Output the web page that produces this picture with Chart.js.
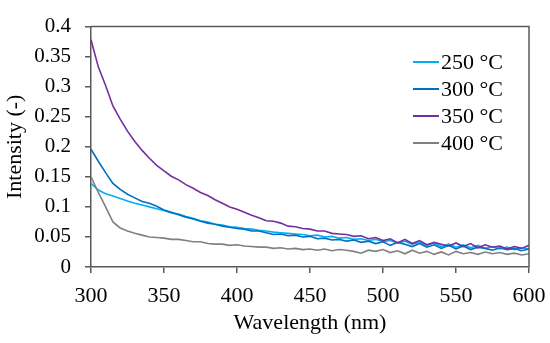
<!DOCTYPE html>
<html>
<head>
<meta charset="utf-8">
<script src="https://cdn.jsdelivr.net/npm/chart.js@4"></script>
<style>
  html, body { margin: 0; padding: 0; background: #fff; }
  #wrap { width: 550px; height: 343px; }
</style>
</head>
<body>
<div id="wrap"><canvas id="spectra"></canvas></div>
<script>
// wavelength (nm)
var wavelengths = [300,305,310,315,320,325,330,335,340,345,350,355,360,365,370,375,380,385,390,395,
    400,405,410,415,420,425,430,435,440,445,450,455,460,465,470,475,480,485,490,495,
    500,505,510,515,520,525,530,535,540,545,550,555,560,565,570,575,580,585,590,595,600];

var series_labels = ['250 \u00B0C', '300 \u00B0C', '350 \u00B0C', '400 \u00B0C'];
var series_colors = ['#00B0F0', '#0070C0', '#7030A0', '#808080'];

var intensity_250 = [.139,.128,.122,.118,.114,.110,.106,.103,.100,.097,.094,.090,.088,.084,.081,.077,.075,.071,.070,.067,
    .066,.064,.063,.061,.060,.058,.057,.056,.055,.054,.052,.053,.050,.051,.048,.049,.046,.047,.044,.046,
    .042,.044,.040,.043,.038,.041,.036,.040,.034,.038,.033,.037,.032,.036,.031,.034,.030,.033,.029,.032,.030];

var intensity_300 = [.196,.176,.157,.139,.129,.121,.115,.109,.106,.101,.095,.091,.087,.083,.080,.076,.073,.071,.068,.066,
    .064,.063,.060,.060,.057,.054,.055,.052,.053,.050,.051,.047,.048,.045,.046,.043,.045,.041,.043,.039,
    .042,.036,.041,.038,.034,.039,.033,.037,.031,.036,.030,.035,.029,.033,.031,.028,.032,.029,.031,.027,.030];

var intensity_350 = [.378,.333,.302,.268,.246,.226,.209,.194,.181,.169,.160,.151,.145,.137,.131,.124,.119,.112,.106,.100,
    .096,.091,.086,.082,.077,.076,.073,.068,.067,.064,.063,.060,.060,.056,.055,.054,.051,.052,.047,.049,
    .044,.047,.040,.046,.039,.044,.037,.041,.038,.035,.040,.034,.039,.032,.037,.033,.035,.030,.034,.031,.036];

var intensity_400 = [.150,.124,.100,.075,.065,.060,.056,.053,.050,.049,.048,.046,.046,.044,.042,.042,.039,.038,.038,.036,
    .037,.035,.034,.033,.033,.031,.032,.030,.031,.029,.030,.028,.030,.027,.029,.028,.026,.023,.028,.026,
    .029,.024,.027,.022,.028,.023,.026,.021,.025,.020,.026,.022,.024,.021,.025,.022,.024,.021,.023,.020,.022];

var all_series = [intensity_250, intensity_300, intensity_350, intensity_400];

var FONT = "'Liberation Serif', 'Times New Roman', serif";
var AXIS_COLOR = '#595959';

function toPoints(values) {
    return values.map(function(v, i) { return { x: wavelengths[i], y: v }; });
}

// box around plot + legend on the right
var framePlugin = {
    id: 'frame',
    afterDatasetsDraw: function(chart) {
        var a = chart.chartArea;
        var ctx = chart.ctx;
        ctx.save();
        ctx.strokeStyle = AXIS_COLOR;
        ctx.lineWidth = 1.5;
        ctx.beginPath();
        ctx.moveTo(a.left, a.top);
        ctx.lineTo(a.right, a.top);
        ctx.lineTo(a.right, a.bottom);
        ctx.stroke();

        ctx.font = '22px ' + FONT;
        ctx.textBaseline = 'middle';
        ctx.textAlign = 'left';
        chart.data.datasets.forEach(function(ds, i) {
            var y = 62 + i * 27;
            ctx.strokeStyle = ds.borderColor;
            ctx.lineWidth = 2;
            ctx.beginPath();
            ctx.moveTo(413, y);
            ctx.lineTo(439, y);
            ctx.stroke();
            ctx.fillStyle = '#000';
            ctx.fillText(ds.label, 441, y + 1);
        });
        ctx.restore();
    }
};

var datasets = all_series.map(function(vals, i) {
    return {
        label: series_labels[i],
        data: toPoints(vals),
        borderColor: series_colors[i],
        borderWidth: 1.6,
        pointRadius: 0,
        tension: 0,
        fill: false,
        order: all_series.length - 1 - i
    };
});

var ctx = document.getElementById('spectra').getContext('2d');
var chart = new Chart(ctx, {
    type: 'line',
    data: { datasets: datasets },
    options: {
        responsive: true,
        maintainAspectRatio: false,
        animation: false,
        layout: { padding: { top: 16, right: 21, left: 1, bottom: 0 } },
        plugins: {
            legend: { display: false },
            tooltip: { enabled: false }
        },
        scales: {
            x: {
                type: 'linear',
                min: 300,
                max: 600,
                afterFit: function(scale) {
                    scale.height = 76;
                    scale.paddingLeft = 0;
                    scale.paddingRight = 0;
                },
                ticks: {
                    stepSize: 50,
                    color: '#000',
                    padding: 10,
                    maxRotation: 0,
                    font: { family: FONT, size: 22 }
                },
                grid: {
                    drawOnChartArea: false,
                    drawTicks: true,
                    tickLength: 6,
                    color: AXIS_COLOR,
                    lineWidth: 1.5
                },
                border: { color: AXIS_COLOR, width: 1.5 },
                title: {
                    display: true,
                    text: 'Wavelength (nm)',
                    color: '#000',
                    padding: { top: 0, bottom: 7 },
                    font: { family: FONT, size: 22 }
                }
            },
            y: {
                min: 0,
                max: 0.4,
                afterFit: function(scale) { scale.width = 90; },
                ticks: {
                    stepSize: 0.05,
                    color: '#000',
                    padding: 14,
                    font: { family: FONT, size: 21 },
                    callback: function(v) { return String(Math.round(v * 100) / 100); }
                },
                grid: {
                    drawOnChartArea: false,
                    drawTicks: true,
                    tickLength: 6,
                    color: AXIS_COLOR,
                    lineWidth: 1.5
                },
                border: { color: AXIS_COLOR, width: 1.5 },
                title: {
                    display: true,
                    text: 'Intensity (-)',
                    color: '#000',
                    padding: { top: 1, bottom: 0 },
                    font: { family: FONT, size: 22 }
                }
            }
        }
    },
    plugins: [framePlugin]
});
</script>
</body>
</html>
